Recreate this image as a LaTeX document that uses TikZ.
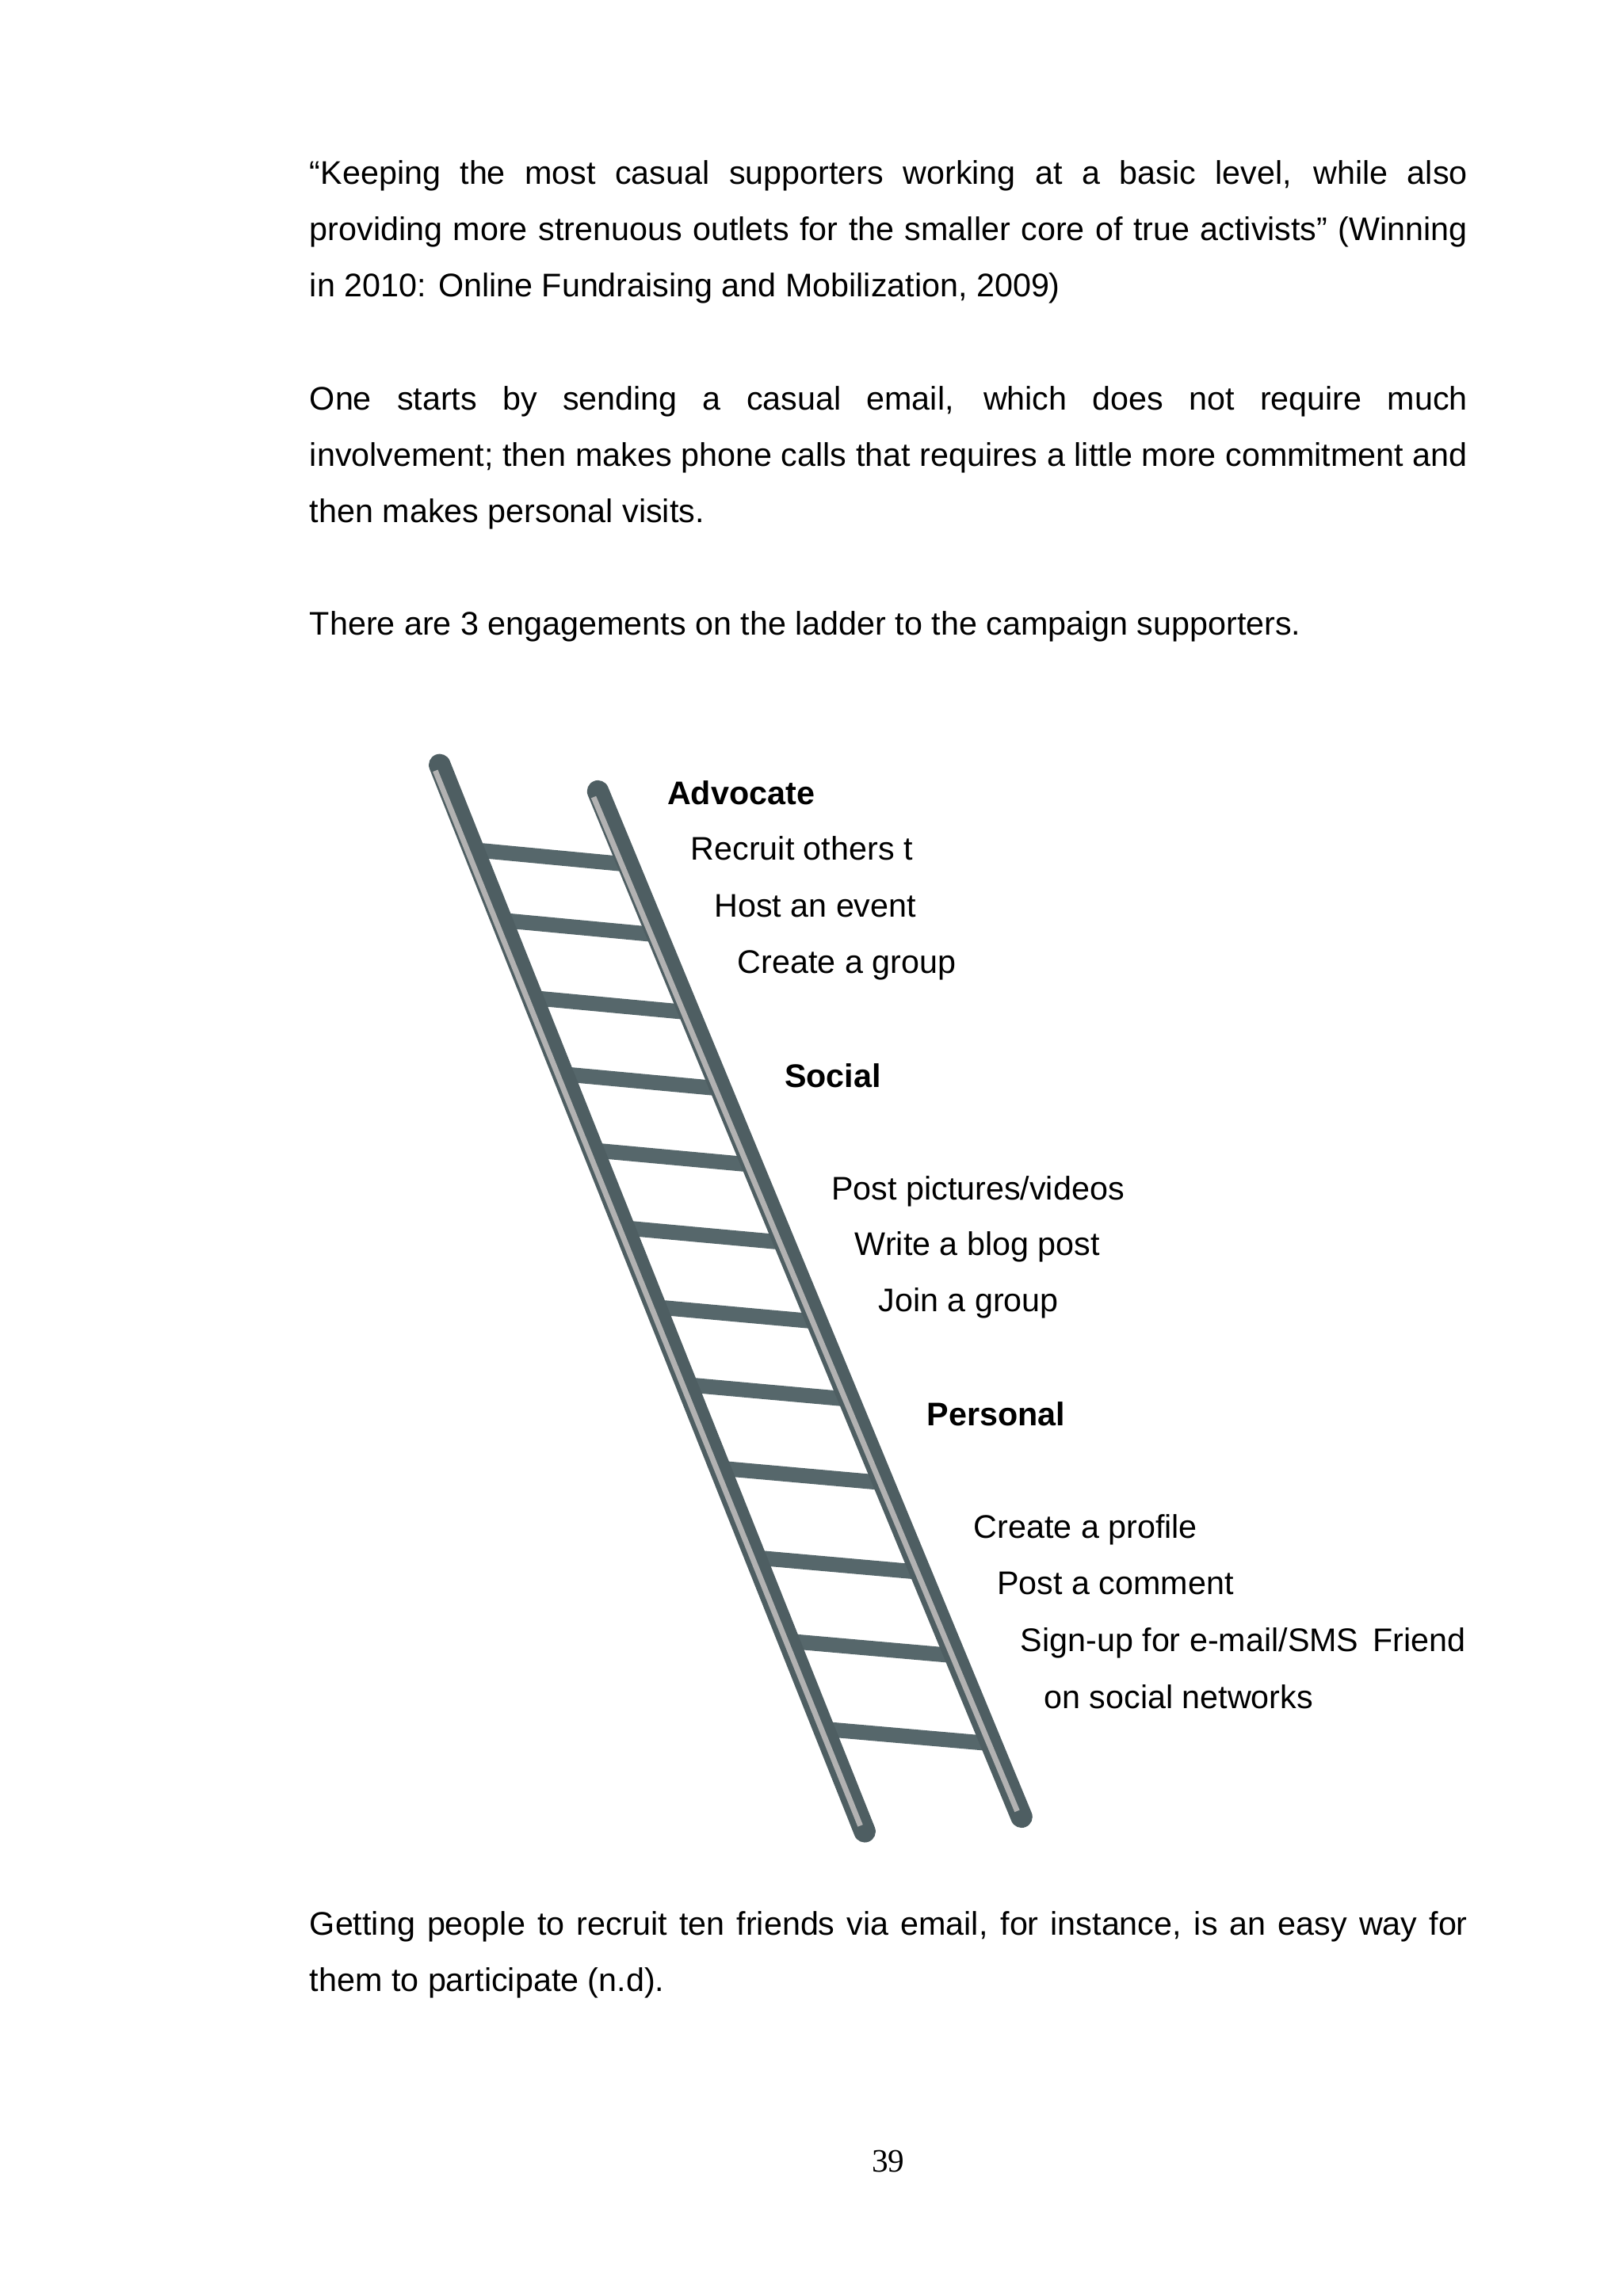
\documentclass[tikz,border=0pt]{standalone}
\usepackage{fontspec}
\setmainfont{Liberation Sans}
\newfontfamily\pnfont{Liberation Serif}
\usetikzlibrary{calc}
\definecolor{railc}{HTML}{4E5E62}
\definecolor{rungc}{HTML}{56676B}
\begin{document}
\begin{tikzpicture}[x=0.5376pt,y=-0.5376pt,
  para/.style={anchor=north west,inner sep=0pt,text width=424.7pt,align=justify,font=\fontsize{12}{20.7}\selectfont},
  lbl/.style={anchor=base west,inner sep=0pt,font=\fontsize{12}{14}\selectfont},
  head/.style={lbl,font=\fontsize{12}{14}\selectfont\bfseries},
  rail/.style={line width=8pt,draw=railc,line cap=round},
  railhi/.style={line width=2pt,draw=gray!60},
  rung/.style={line width=5.5pt,draw=rungc}]
\useasboundingbox (0,0) rectangle (1107,1567);
\fill[white] (0,0) rectangle (1107,1567);
\node[para] (p1) at (211,109) {``Keeping the most casual supporters working at a basic level, while also\linebreak providing more strenuous outlets for the smaller core of true activists'' (Winning\linebreak in 2010: Online Fundraising and Mobilization, 2009)};
\node[para] (p2) at (211,263) {One starts by sending a casual email, which does not require much\linebreak involvement; then makes phone calls that requires a little more commitment and\linebreak then makes personal visits.};
\node[para] (p3) at (211,417) {There are 3 engagements on the ladder to the campaign supporters.};
\node[para] (p4) at (211,1304) {Getting people to recruit ten friends via email, for instance, is an easy way for them to participate (n.d).};
\node[inner sep=0pt,font=\pnfont\fontsize{12}{14}\selectfont] (pn) at (606,1475) {39};
% ladder
\coordinate (lt) at (300,522); \coordinate (lb) at (590,1250);
\coordinate (rt) at (408,540); \coordinate (rb) at (697,1240);
\foreach \y in {585,633,686,738,790,843,897,950,1007,1068,1125,1185}{
  \draw[rung] ({300+0.398*(\y-5-522)},\y-5) -- ({408+0.413*(\y+5-540)},\y+5);
}
\draw[rail] (lt) -- (lb);
\draw[rail] (rt) -- (rb);
\draw[railhi] ($(lt)+(-3,4)$) -- ($(lb)+(-3,-4)$);
\draw[railhi] ($(rt)+(-3,4)$) -- ($(rb)+(-3,-4)$);
% labels
\node[head] (adv) at (455,549) {Advocate};
\node[lbl] (a1) at (471,587) {Recruit others t};
\node[lbl] (a2) at (487,626) {Host an event};
\node[lbl] (a3) at (503,664) {Create a group};
\node[head] (soc) at (535,742) {Social};
\node[lbl] (s1) at (567,819) {Post pictures/videos};
\node[lbl] (s2) at (583,857) {Write a blog post};
\node[lbl] (s3) at (599,895) {Join a group};
\node[head] (per) at (632,973) {Personal};
\node[lbl] (q1) at (664,1050) {Create a profile};
\node[lbl] (q2) at (680,1088) {Post a comment};
\node[lbl] (q3) at (696,1127) {Sign-up for e-mail/SMS\hspace{5.2pt}Friend};
\node[lbl] (q4) at (712,1166) {on social networks};
\end{tikzpicture}
\end{document}
